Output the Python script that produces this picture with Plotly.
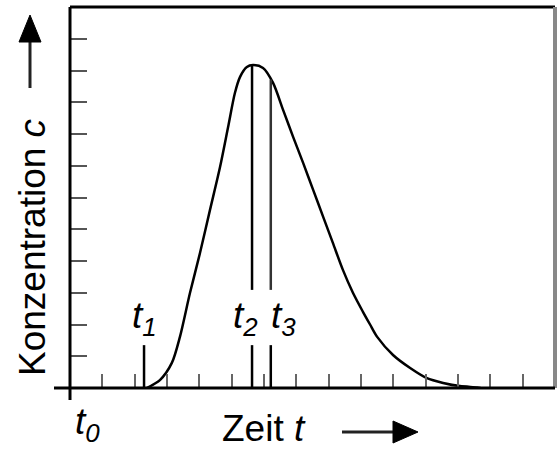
import numpy as np
import plotly.graph_objects as go

# ---- data ----
t_curve = [2.37, 2.78, 3.15, 3.40, 3.71, 4.02, 4.33, 4.64, 4.89, 5.10, 5.26, 5.47,
           5.66, 5.97, 6.28, 6.59, 6.90, 7.21, 7.52, 7.83, 8.13, 8.44, 8.75, 9.06,
           9.28, 9.50, 9.99, 10.52, 11.04, 11.54, 12.06, 12.59, 12.70]
c_curve = [0.0, 0.25, 0.79, 1.61, 2.99, 4.25, 5.61, 6.96, 8.22, 9.29, 9.80, 10.11,
           10.17, 10.08, 9.61, 8.76, 7.91, 7.09, 6.24, 5.39, 4.57, 3.72, 3.00, 2.40,
           2.00, 1.61, 1.04, 0.63, 0.31, 0.16, 0.06, 0.02, 0.0]
t_marks = [2.29, 5.63, 6.21]
t_labels = ["<i>t<sub>1</sub></i>", "<i>t<sub>2</sub></i>", "<i>t<sub>3</sub></i>"]
x_ticks = list(range(1, 15))
y_ticks = list(range(1, 12))
x_range = [0, 15]
y_range = [0, 12]
low_seg_top = 1.35
up_seg_bottom = 3.09

# ---- layout geometry ----
W, H = 560, 458
ML, MR, MT, MB = 70, 5, 7, 70
PW, PH = W - ML - MR, H - MT - MB


def px(xp):
    return (xp - ML) / PW


def py(yp):
    return (H - MB - yp) / PH


FONT = "Liberation Sans, Arial, sans-serif"
FS = 37

fig = go.Figure()
fig.add_trace(go.Scatter(x=t_curve, y=c_curve, mode="lines",
                         line=dict(color="black", width=2.5, shape="spline", smoothing=0.8),
                         hoverinfo="skip", showlegend=False))

shapes = []
# frame
shapes.append(dict(type="line", xref="paper", yref="paper", x0=0, x1=1, y0=1, y1=1,
                   line=dict(color="black", width=3)))
shapes.append(dict(type="line", xref="paper", yref="paper", x0=1, x1=1, y0=0, y1=1,
                   line=dict(color="#888", width=4)))
shapes.append(dict(type="line", xref="paper", yref="paper", x0=0, x1=0, y0=py(400), y1=1,
                   line=dict(color="black", width=3)))
shapes.append(dict(type="line", xref="paper", yref="paper", x0=px(54), x1=1, y0=0, y1=0,
                   line=dict(color="black", width=3)))

# marker lines
for i, tm in enumerate(t_marks):
    shapes.append(dict(type="line", xref="x", yref="y", x0=tm, x1=tm, y0=0, y1=low_seg_top,
                       line=dict(color="black", width=2.5)))
    if i > 0:
        top = float(np.interp(tm, t_curve, c_curve))
        shapes.append(dict(type="line", xref="x", yref="y", x0=tm, x1=tm, y0=up_seg_bottom, y1=top,
                           line=dict(color="black" if i == 1 else "#333", width=2.5)))

# y arrow
shapes.append(dict(type="line", xref="paper", yref="paper", x0=px(30), x1=px(30), y0=py(88), y1=py(40),
                   line=dict(color="#222", width=3)))
shapes.append(dict(type="path", xref="paper", yref="paper",
                   path=f"M{px(30)},{py(15)} L{px(19)},{py(42)} L{px(41)},{py(42)} Z",
                   fillcolor="black", line=dict(color="black", width=1)))
# x arrow
shapes.append(dict(type="line", xref="paper", yref="paper", x0=px(342), x1=px(396), y0=py(432), y1=py(432),
                   line=dict(color="#222", width=3)))
shapes.append(dict(type="path", xref="paper", yref="paper",
                   path=f"M{px(418)},{py(432)} L{px(393)},{py(421)} L{px(393)},{py(443)} Z",
                   fillcolor="black", line=dict(color="black", width=1)))

annotations = []
font = dict(family=FONT, size=FS, color="black")
# t labels
anchors = [("center", 0.0), ("right", 0.2), ("left", -0.03)]
for tm, lab, (xa, dx) in zip(t_marks, t_labels, anchors):
    annotations.append(dict(x=tm + dx, y=2.2, xref="x", yref="y", text=lab, showarrow=False,
                            xanchor=xa, yanchor="middle", font=font, borderpad=0))
annotations.append(dict(x=px(87), y=py(424), xref="paper", yref="paper", text="<i>t<sub>0</sub></i>",
                        showarrow=False, xanchor="center", yanchor="middle", font=font, borderpad=0))
annotations.append(dict(x=px(264), y=py(428), xref="paper", yref="paper", text="Zeit <i>t</i>",
                        showarrow=False, xanchor="center", yanchor="middle", font=font, borderpad=0))
annotations.append(dict(x=px(32), y=py(247), xref="paper", yref="paper", text="Konzentration <i>c</i>",
                        textangle=-90, showarrow=False, xanchor="center", yanchor="middle",
                        font=font, borderpad=0))

fig.update_layout(
    width=W, height=H, margin=dict(l=ML, r=MR, t=MT, b=MB),
    paper_bgcolor="white", plot_bgcolor="white",
    shapes=shapes, annotations=annotations, showlegend=False,
    xaxis=dict(range=x_range, tickvals=x_ticks, ticks="inside", ticklen=14, tickwidth=2,
               tickcolor="#666", showticklabels=False, showgrid=False, zeroline=False,
               showline=False, fixedrange=True),
    yaxis=dict(range=y_range, tickvals=y_ticks, ticks="inside", ticklen=17, tickwidth=2,
               tickcolor="#555", showticklabels=False, showgrid=False, zeroline=False,
               showline=False, fixedrange=True),
)

fig.write_html("out.html", config={"displayModeBar": False},
               post_script="document.body.style.margin='0';document.body.style.overflow='hidden';")
